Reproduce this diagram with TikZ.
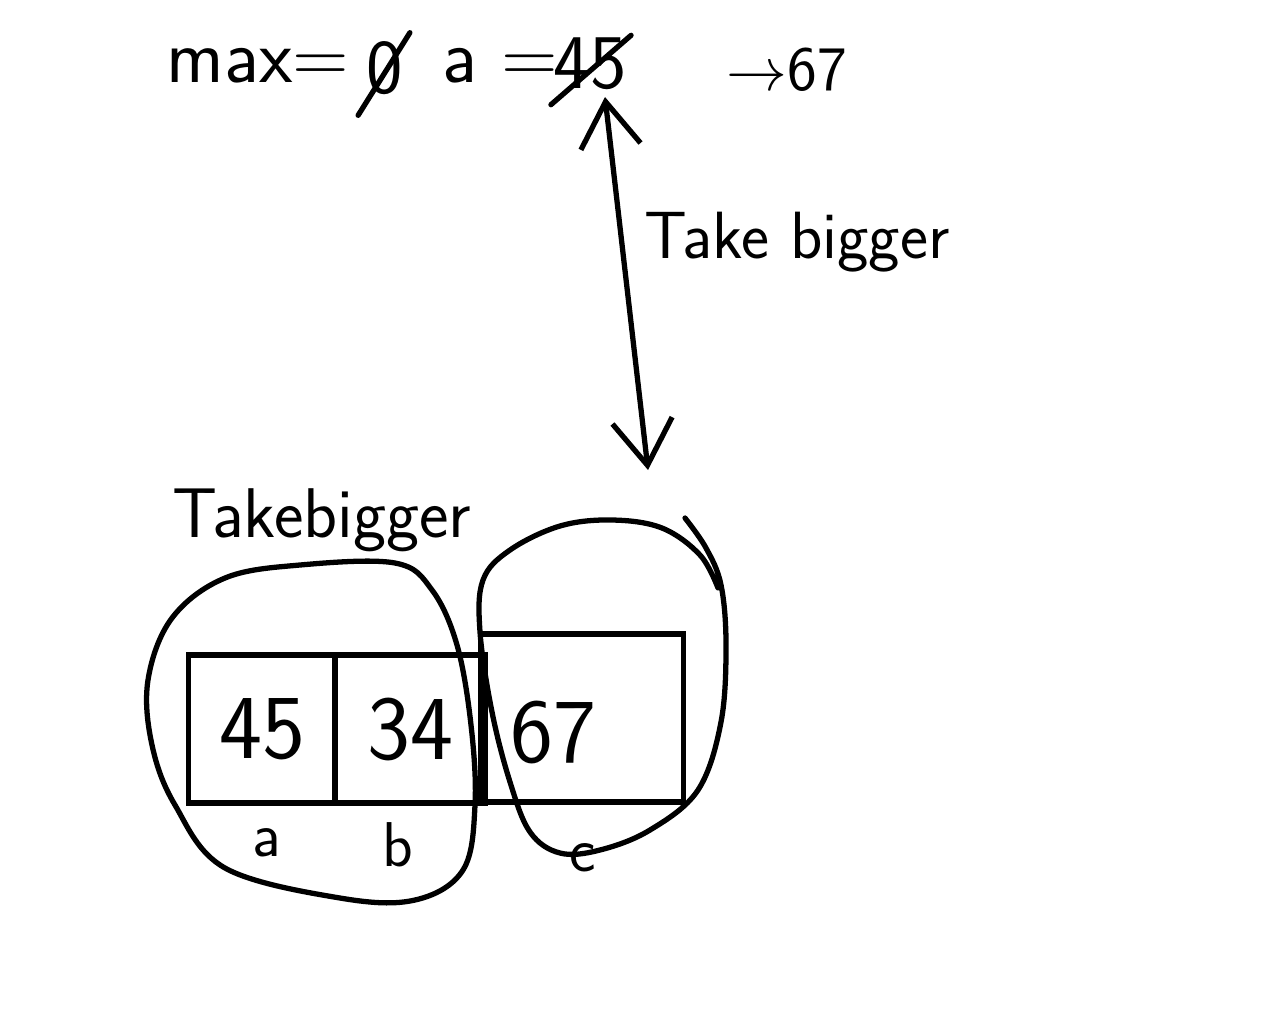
\documentclass[tikz,border=0pt]{standalone}
\usepackage{tikz}
\usetikzlibrary{arrows.meta, positioning, calc}

\begin{document}
\begin{tikzpicture}[x=0.01cm, y=-0.01cm,
    ink/.style={line width=1.5pt, line cap=round, line join=round},
    barbs/.style={{Straight Barb[length=4.5mm, width=6mm]}-{Straight Barb[length=4.5mm, width=6mm]}},
    hand/.style={font=\sffamily\fontsize{22}{24}\selectfont, inner sep=0pt},
    handsm/.style={font=\sffamily\fontsize{18}{20}\selectfont, inner sep=0pt},
    cell/.style={draw, line width=1.5pt, inner sep=0pt, font=\sffamily\fontsize{26}{28}\selectfont}]
  \useasboundingbox (0,0) rectangle (1280,1024);

  % ===== Top line =====
  \node[hand] (maxeq) at (258,66) {max=};
  \node[hand] (zero) at (385,68) {0};
  \node[hand] (aeq) at (500,66) {a =};
  \node[hand] (old45) at (590,64) {45};
  \node[handsm] (new67) at (787,70) {$\rightarrow$67};

  % strike-outs
  \draw[ink] ($(zero.south west)+(-8,20)$) -- ($(zero.north east)+(6,-8)$);
  \draw[ink] ($(old45.south west)+(-2,14)$) -- ($(old45.north east)+(4,-2)$);

  % ===== Compare arrow =====
  \coordinate (arrtop) at (605,97);
  \coordinate (arrbot) at (648,470);
  \draw[ink, barbs] (arrtop) -- (arrbot);
  \node[hand, font=\sffamily\fontsize{19}{21}\selectfont] (cmplbl) at (797,242) {Take bigger};

  % ===== Array =====
  \node[hand, font=\sffamily\fontsize{20}{22}\selectfont] (pairlbl) at (322,520) {Takebigger};

  \node[cell, minimum width=1.47cm, minimum height=1.48cm] (cella) at (262,729) {45};
  \node[cell, minimum width=1.50cm, minimum height=1.48cm] (cellb) at (410,729) {34};
  \node[cell, minimum width=2.03cm, minimum height=1.68cm] (cellc) at (582,718) {};
  \node[cell, draw=none] (num67) at (553,732) {67};

  \node[handsm] (laba) at (267,843) {a};
  \node[handsm] (labb) at (398,845) {b};
  \node[handsm] (labc) at (583,858) {c};

  % group a,b
  \draw[ink] plot[smooth cycle, tension=0.6] coordinates {
    (148,680) (172,618) (225,578) (300,565) (395,563) (432,590) (457,645)
    (471,725) (475,805) (463,870) (415,900) (340,898) (225,868) (175,805) (152,745)};

  % group c
  \draw[ink] plot[smooth, tension=0.6] coordinates {
    (685,518) (706,548) (721,585) (726,645) (721,722) (698,790) (650,830)
    (600,850) (560,853) (530,832) (510,782) (492,712) (480,632) (483,580)
    (510,550) (560,526) (612,520) (662,528) (700,555) (718,588)};
\end{tikzpicture}
\end{document}
